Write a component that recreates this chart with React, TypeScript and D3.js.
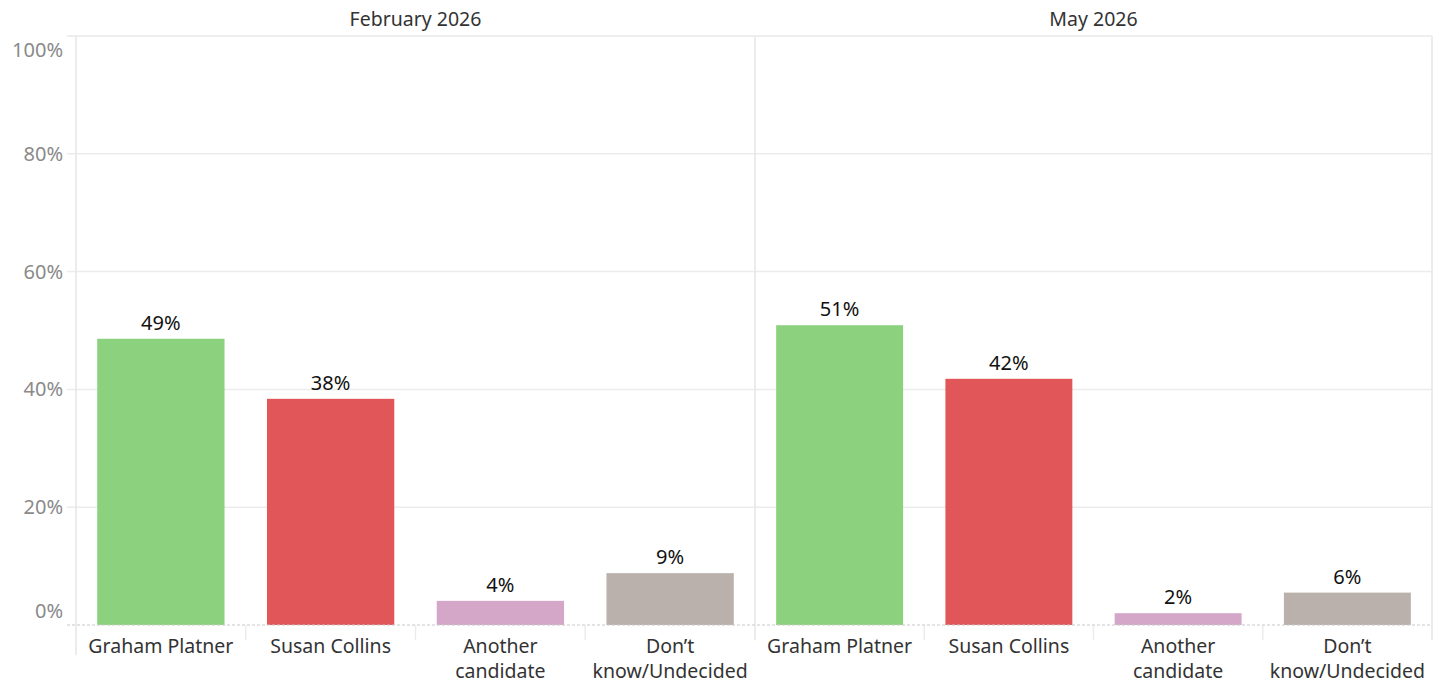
import React from "react";
import * as d3 from "d3";

const panels = ["February 2026", "May 2026"];
const categories = ["Graham Platner", "Susan Collins", "Another candidate", "Don’t know/Undecided"];
const categoryLines = [["Graham Platner"], ["Susan Collins"], ["Another", "candidate"], ["Don’t", "know/Undecided"]];
const febValues = [48.6, 38.4, 4.1, 8.8];
const mayValues = [50.9, 41.8, 2.0, 5.5];
const colors = ["#8cd17d", "#e15759", "#d4a6c8", "#bab0ac"];
const yTicks = [0, 20, 40, 60, 80, 100];

const W = 1433;
const H = 683;
const left = 76;
const right = 1432;
const top = 36;
const bottom = 625;
const divider = 755;
const font = "'Noto Sans', 'Open Sans', sans-serif";

export default function App() {
  const y = d3.scaleLinear().domain([0, 100]).range([bottom, top]);
  const panelScale = d3.scaleOrdinal<string, [number, number]>().domain(panels).range([[left, divider], [divider, right]]);
  const series = [febValues, mayValues];

  return (
    <svg width={W} height={H} style={{ position: "absolute", left: 0, top: 0, background: "#fff" }}>
      {yTicks.filter((t) => t > 0).map((t) => (
        <line key={t} x1={67} x2={right} y1={y(t)} y2={y(t)} stroke="#ececec" strokeWidth={1.5} />
      ))}
      {yTicks.map((t) => {
        let ty = y(t) + 7;
        if (t === 100) ty = y(t) + 21;
        if (t === 0) ty = y(t) - 7;
        return (
          <text key={t} x={63} y={ty} textAnchor="end" fontFamily={font} fontSize={20} fill="#8a8a8a">
            {t}%
          </text>
        );
      })}
      <line x1={left} x2={left} y1={top} y2={655} stroke="#e6e6e6" strokeWidth={1.5} />
      <line x1={divider} x2={divider} y1={top} y2={640} stroke="#e6e6e6" strokeWidth={1.5} />
      <line x1={right} x2={right} y1={top} y2={640} stroke="#e6e6e6" strokeWidth={1.5} />
      {panels.map((p, pi) => {
        const [x0, x1] = panelScale(p);
        const x = d3.scaleBand<string>().domain(categories).range([x0, x1]).paddingInner(0.25).paddingOuter(0.125);
        const xb = d3.scaleBand<string>().domain(categories).range([x0, x1]);
        return (
          <g key={p}>
            <text x={(x0 + x1) / 2} y={26} textAnchor="middle" fontFamily={font} fontSize={19.5} fill="#333">
              {p}
            </text>
            {categories.map((c, i) => {
              const v = series[pi][i];
              const bx = x(c)!;
              const bw = x.bandwidth();
              return (
                <g key={c}>
                  <rect x={bx} y={y(v)} width={bw} height={y(0) - y(v)} fill={colors[i]} />
                  <text x={bx + bw / 2} y={y(v) - 9} textAnchor="middle" fontFamily={font} fontSize={20} fill="#111">
                    {Math.round(v)}%
                  </text>
                  <text x={bx + bw / 2} y={653} textAnchor="middle" fontFamily={font} fontSize={19.5} fill="#333">
                    {categoryLines[i].map((ln, li) => (
                      <tspan key={li} x={bx + bw / 2} dy={li === 0 ? 0 : 24.5}>
                        {ln}
                      </tspan>
                    ))}
                  </text>
                  {i > 0 && (
                    <line x1={xb(c)!} x2={xb(c)!} y1={bottom} y2={640} stroke="#ececec" strokeWidth={1.5} />
                  )}
                </g>
              );
            })}
          </g>
        );
      })}
      <line x1={67} x2={right} y1={top} y2={top} stroke="#ececec" strokeWidth={1.5} />
      <line x1={67} x2={right} y1={bottom} y2={bottom} stroke="#c8c8c8" strokeWidth={1} strokeDasharray="3,2" />
    </svg>
  );
}
